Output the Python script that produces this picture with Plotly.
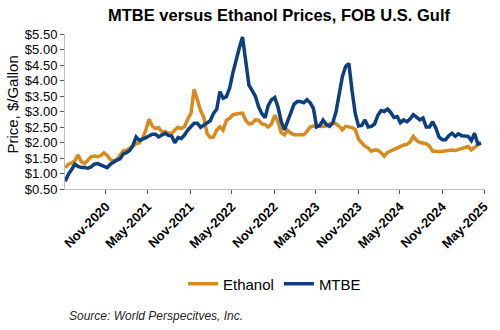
import pandas as pd
import plotly.graph_objects as go

# Bi-weekly price observations, $/gallon, starting 2020-05-08
start_date = "2020-05-08"

ethanol = [
    1.19, 1.30, 1.34, 1.41, 1.60, 1.38, 1.32, 1.43, 1.54, 1.56,
    1.54, 1.58, 1.67, 1.58, 1.45, 1.41, 1.45, 1.59, 1.73, 1.75,
    1.81, 1.88, 1.97, 1.99, 2.13, 2.40, 2.75, 2.53, 2.45, 2.48,
    2.34, 2.35, 2.31, 2.29, 2.40, 2.49, 2.45, 2.51, 2.75, 2.94,
    3.72, 3.35, 3.03, 2.81, 2.29, 2.16, 2.18, 2.40, 2.51, 2.40,
    2.72, 2.78, 2.89, 2.92, 2.94, 2.95, 2.72, 2.60, 2.62, 2.73,
    2.72, 2.60, 2.58, 2.50, 2.60, 2.88, 2.68, 2.32, 2.25, 2.40,
    2.30, 2.25, 2.25, 2.25, 2.25, 2.36, 2.50, 2.53, 2.52, 2.53,
    2.52, 2.53, 2.60, 2.62, 2.60, 2.52, 2.41, 2.52, 2.50, 2.48,
    2.42, 2.10, 1.99, 1.88, 1.82, 1.72, 1.76, 1.75, 1.67, 1.56,
    1.68, 1.73, 1.79, 1.82, 1.86, 1.92, 1.94, 2.02, 2.20, 2.07,
    2.00, 1.98, 1.96, 1.88, 1.72, 1.72, 1.70, 1.72, 1.74, 1.76,
    1.76, 1.74, 1.78, 1.80, 1.83, 1.87, 1.76, 1.85, 1.92, 1.97,
]

mtbe = [
    0.75, 0.98, 1.13, 1.30, 1.23, 1.19, 1.19, 1.17, 1.21, 1.30,
    1.32, 1.27, 1.21, 1.19, 1.30, 1.37, 1.43, 1.47, 1.63, 1.67,
    1.74, 1.91, 2.18, 2.07, 2.13, 2.16, 2.21, 2.27, 2.27, 2.18,
    2.24, 2.30, 2.23, 2.21, 1.99, 2.16, 2.13, 2.24, 2.40, 2.51,
    2.62, 2.62, 2.49, 2.56, 2.62, 2.70, 2.94, 3.07, 3.64, 3.43,
    3.48, 3.75, 4.24, 4.69, 5.05, 5.40, 4.51, 3.85, 3.67, 3.49,
    3.15, 2.93, 2.80, 3.20, 3.38, 3.45, 3.15, 2.68, 2.41, 2.67,
    3.00, 3.24, 3.32, 3.32, 3.28, 3.38, 3.28, 3.10, 2.50, 2.55,
    2.72, 2.58, 2.52, 2.63, 2.98, 3.60, 4.13, 4.45, 4.55, 3.66,
    2.93, 2.53, 2.55, 2.73, 2.50, 2.52, 2.60, 2.88, 3.03, 3.00,
    3.08, 2.97, 2.81, 2.84, 2.64, 2.73, 2.67, 2.76, 2.90, 2.82,
    2.73, 2.79, 2.50, 2.50, 2.67, 2.46, 2.17, 2.09, 2.09, 2.22,
    2.30, 2.20, 2.28, 2.22, 2.20, 2.20, 2.06, 2.30, 1.95, 1.99,
]

tick_dates = ["2020-11-01", "2021-05-01", "2021-11-01", "2022-05-01", "2022-11-01",
              "2023-05-01", "2023-11-01", "2024-05-01", "2024-11-01", "2025-05-01"]
tick_labels = ["Nov-2020", "May-2021", "Nov-2021", "May-2022", "Nov-2022",
               "May-2023", "Nov-2023", "May-2024", "Nov-2024", "May-2025"]

dates = pd.date_range(start_date, periods=len(mtbe), freq="14D")

FONT = "Liberation Sans, Arial, sans-serif"
ORANGE = "#D98A1E"
NAVY = "#0B3F7E"

fig = go.Figure()
fig.add_trace(go.Scatter(x=dates, y=ethanol, mode="lines", name="Ethanol",
                         line=dict(color=ORANGE, width=3.5)))
fig.add_trace(go.Scatter(x=dates, y=mtbe, mode="lines", name="MTBE",
                         line=dict(color=NAVY, width=3.5)))

fig.update_layout(
    width=500, height=330,
    margin=dict(l=65, r=9, t=34, b=141),
    paper_bgcolor="white", plot_bgcolor="white",
    font=dict(family=FONT, color="#000000"),
    title=dict(text="<b>MTBE versus Ethanol Prices, FOB U.S. Gulf</b>",
               x=0.558, xanchor="center", y=0.955, yanchor="middle",
               font=dict(size=16.5, family=FONT, color="#000000")),
    showlegend=True,
    legend=dict(orientation="h", x=0.5, xanchor="center", y=-0.613, yanchor="middle",
                font=dict(size=15, family=FONT), itemwidth=30, tracegroupgap=0),
)

fig.update_xaxes(
    type="date", range=["2020-05-07", "2025-05-01"],
    tickvals=tick_dates, ticktext=tick_labels, tickangle=-45,
    tickfont=dict(size=13, family=FONT, weight="bold"),
    showgrid=False, zeroline=False,
    showline=True, linecolor="#BFBFBF", linewidth=1,
    ticks="outside", ticklen=4, tickcolor="#595959",
)
fig.update_yaxes(
    range=[0.5, 5.5], dtick=0.5, tick0=0.5,
    tickprefix="$", tickformat=".2f",
    tickfont=dict(size=13, family=FONT),
    showgrid=False, zeroline=False,
    showline=True, linecolor="#BFBFBF", linewidth=1,
    ticks="outside", ticklen=4, tickcolor="#595959",
)

fig.add_annotation(text="Price, $/Gallon", textangle=-90, xref="paper", yref="paper",
                   x=-0.125, y=0.542, xanchor="center", yanchor="middle", showarrow=False,
                   font=dict(size=15, family=FONT))
fig.add_annotation(text="<i>Source: World Perspecitves, Inc.</i>", xref="paper", yref="paper",
                   x=0.005, y=-0.819, xanchor="left", yanchor="middle", showarrow=False,
                   font=dict(size=12, family=FONT, color="#262626"))

fig.write_html("out.html")
